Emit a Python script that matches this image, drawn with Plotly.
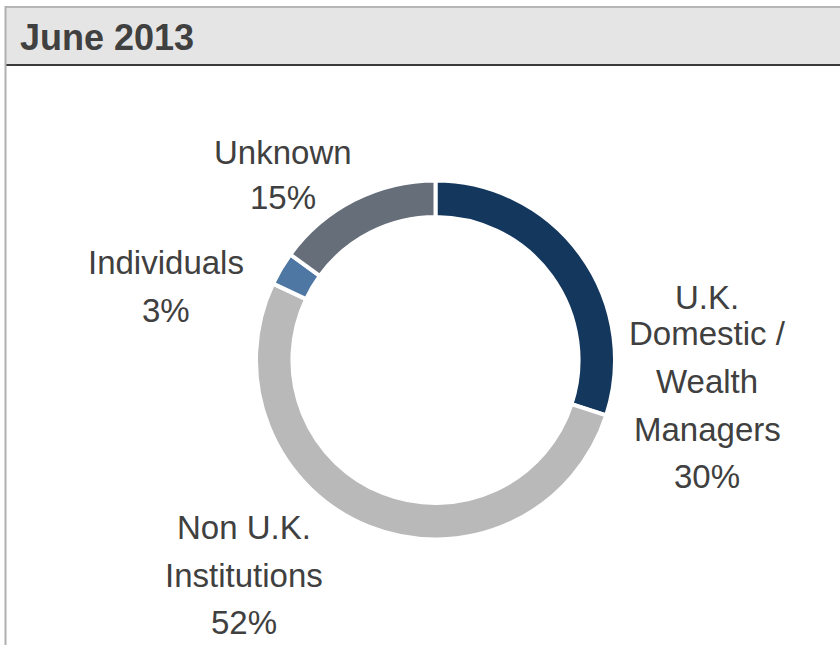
import plotly.graph_objects as go

# Investor breakdown, June 2013
categories = ["U.K. Domestic / Wealth Managers", "Non U.K. Institutions", "Individuals", "Unknown"]
label_lines = [["U.K.", "Domestic /", "Wealth", "Managers"], ["Non U.K.", "Institutions"], ["Individuals"], ["Unknown"]]
shares = [30, 52, 3, 15]
colors = ["#13375d", "#b8b9b8", "#4f77a3", "#666e7a"]
title_text = "June 2013"

W, H = 840, 645
LABEL_FONT = "Liberation Sans, Arial, sans-serif"

# label block layout: centre x and the y of each text line (pixels from top-left)
label_x = [707, 244, 166, 283]
label_y = [[297, 333, 381, 429, 476], [527, 575, 622], [262, 310], [152, 198]]


def px(x):
    return x / W


def py(y):
    return 1 - y / H


cx, cy, R = 435.5, 360.0, 179.5

fig = go.Figure(
    go.Pie(
        values=shares,
        labels=categories,
        marker=dict(colors=colors, line=dict(color="white", width=4)),
        hole=0.797,
        sort=False,
        direction="clockwise",
        rotation=0,
        textinfo="none",
        hoverinfo="label+percent",
        showlegend=False,
        domain=dict(x=[px(cx - R), px(cx + R)], y=[py(cy + R), py(cy - R)]),
    )
)

annotations = []
for lines, val, x, ys in zip(label_lines, shares, label_x, label_y):
    for line, y in zip(lines + [f"{val}%"], ys):
        annotations.append(
            dict(
                text=line,
                x=px(x), y=py(y), xref="paper", yref="paper",
                xanchor="center", yanchor="middle", showarrow=False,
                font=dict(family=LABEL_FONT, size=33, color="#404040"),
            )
        )

annotations.append(
    dict(
        text=f"<b>{title_text}</b>",
        x=px(18), y=py(37), xref="paper", yref="paper",
        xanchor="left", yanchor="middle", showarrow=False,
        font=dict(family=LABEL_FONT, size=36, color="#404040"),
    )
)

shapes = [
    # header band
    dict(type="rect", xref="paper", yref="paper", x0=px(5), x1=1.01, y0=py(65), y1=py(7.5),
         fillcolor="#e5e5e5", line=dict(width=0), layer="below"),
    dict(type="line", xref="paper", yref="paper", x0=px(5), x1=1.01, y0=py(7), y1=py(7),
         line=dict(color="#b5b5b5", width=2)),
    dict(type="line", xref="paper", yref="paper", x0=px(5), x1=1.01, y0=py(65), y1=py(65),
         line=dict(color="#3a3a3a", width=2)),
    dict(type="line", xref="paper", yref="paper", x0=px(5.5), x1=px(5.5), y0=py(6), y1=-0.01,
         line=dict(color="#b0b0b0", width=2)),
]

fig.update_layout(
    width=W, height=H,
    margin=dict(l=0, r=0, t=0, b=0),
    paper_bgcolor="white",
    plot_bgcolor="white",
    annotations=annotations,
    shapes=shapes,
)

fig.write_html("out.html")
